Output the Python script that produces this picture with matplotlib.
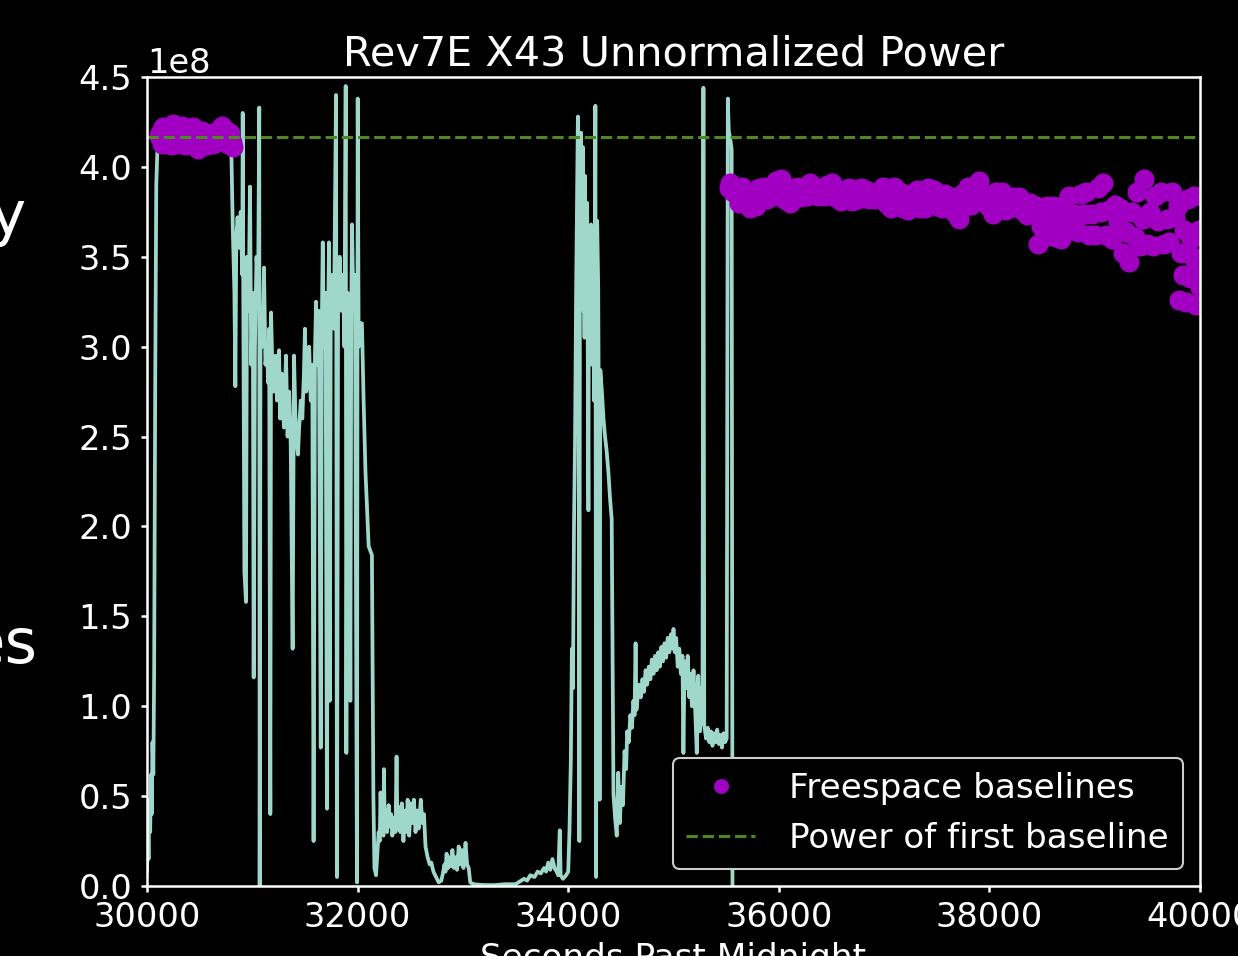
import matplotlib
matplotlib.use("Agg")
import matplotlib.pyplot as plt
import numpy as np

SCALE = 1e8  # power values below are in units of 1e8

# Measured power trace (seconds past midnight, power / 1e8)
trace_time = [
    30000, 30008, 30015, 30022, 30030, 30038, 30045, 30052, 30060, 30068,
    30078, 30088, 30098, 30110, 30150, 30250, 30400, 30550, 30700, 30800,
    30815, 30830, 30839, 30848, 30860, 30875, 30890, 30905, 30909, 30915,
    30925, 30940, 30950, 30965, 30978, 30990, 31005, 31013, 31025, 31040,
    31055, 31066, 31070, 31078, 31095, 31111, 31125, 31140, 31150, 31160,
    31171, 31178, 31190, 31205, 31220, 31235, 31254, 31265, 31280, 31300,
    31320, 31335, 31350, 31365, 31383, 31396, 31410, 31425, 31434, 31445,
    31460, 31475, 31490, 31500, 31512, 31525, 31540, 31555, 31570, 31582,
    31595, 31605, 31618, 31632, 31650, 31660, 31669, 31680, 31695, 31709,
    31718, 31728, 31735, 31745, 31760, 31775, 31795, 31804, 31815, 31830,
    31845, 31860, 31875, 31887, 31893, 31905, 31920, 31931, 31940, 31947,
    31960, 31975, 31994, 32001, 32010, 32020, 32041, 32057, 32075, 32105,
    32136, 32150, 32160, 32175, 32190, 32200, 32210, 32218, 32225, 32235,
    32245, 32250, 32258, 32270, 32280, 32295, 32305, 32318, 32330, 32345,
    32360, 32370, 32378, 32390, 32405, 32420, 32435, 32450, 32465, 32475,
    32490, 32505, 32520, 32535, 32550, 32565, 32580, 32600, 32615, 32630,
    32645, 32665, 32685, 32700, 32720, 32745, 32770, 32795, 32810, 32825,
    32835, 32845, 32860, 32875, 32890, 32900, 32915, 32930, 32945, 32960,
    32975, 32990, 33005, 33025, 33040, 33055, 33070, 33100, 33200, 33300,
    33400, 33500, 33540, 33580, 33610, 33640, 33680, 33710, 33740, 33770,
    33790, 33810, 33830, 33850, 33870, 33890, 33905, 33920, 33928, 33950,
    33980, 34000, 34012, 34025, 34035, 34045, 34055, 34065, 34075, 34085,
    34092, 34096, 34100, 34106, 34112, 34117, 34122, 34127, 34132, 34136,
    34140, 34145, 34150, 34155, 34160, 34165, 34170, 34175, 34180, 34186,
    34192, 34196, 34200, 34205, 34210, 34217, 34222, 34228, 34234, 34240,
    34245, 34250, 34258, 34265, 34275, 34285, 34292, 34298, 34305, 34320,
    34335, 34350, 34365, 34382, 34398, 34413, 34422, 34430, 34445, 34461,
    34475, 34490, 34505, 34520, 34535, 34550, 34560, 34575, 34590, 34605,
    34619, 34630, 34640, 34648, 34660, 34675, 34690, 34705, 34720, 34735,
    34750, 34765, 34780, 34795, 34810, 34825, 34840, 34855, 34870, 34885,
    34900, 34915, 34930, 34945, 34960, 34975, 34990, 35000, 35012, 35025,
    35040, 35055, 35070, 35085, 35094, 35105, 35120, 35135, 35150, 35160,
    35175, 35190, 35205, 35221, 35235, 35250, 35265, 35275, 35284, 35292,
    35310, 35325, 35340, 35355, 35370, 35385, 35400, 35415, 35430, 35445,
    35460, 35475, 35490, 35505, 35516, 35525, 35540, 35552, 35560,
]
trace_power = [
    0.08, 0.35, 0.15, 0.48, 0.30, 0.62, 0.40, 0.80, 0.62, 1.20,
    2.80, 3.90, 4.08, 4.12, 4.14, 4.15, 4.14, 4.15, 4.14, 4.12,
    3.65, 3.30, 2.78, 3.60, 3.72, 3.55, 3.75, 3.40, 4.30, 3.20,
    1.75, 1.58, 3.50, 3.20, 3.89, 2.90, 3.30, 1.16, 3.00, 3.50,
    3.30, 4.33, 0.00, 3.20, 3.00, 3.44, 2.90, 3.00, 2.80, 3.10,
    0.40, 3.19, 2.90, 2.75, 2.95, 2.70, 2.98, 2.60, 2.85, 2.55,
    2.95, 2.50, 2.75, 2.45, 1.32, 2.95, 2.60, 2.45, 2.40, 2.55,
    2.70, 2.60, 2.85, 3.10, 2.75, 2.80, 3.00, 2.70, 2.90, 0.25,
    2.95, 3.25, 2.90, 3.20, 0.77, 3.10, 3.58, 3.00, 3.30, 0.43,
    3.00, 3.58, 1.03, 3.20, 3.40, 3.10, 4.40, 0.05, 3.30, 3.50,
    3.20, 3.40, 3.00, 4.45, 0.74, 3.30, 3.10, 1.03, 3.20, 3.68,
    3.20, 3.40, 0.02, 4.38, 3.00, 3.13, 3.13, 2.70, 2.30, 1.89,
    1.84, 0.50, 0.10, 0.06, 0.20, 0.30, 0.25, 0.52, 0.35, 0.40,
    0.28, 0.65, 0.32, 0.42, 0.30, 0.45, 0.33, 0.40, 0.28, 0.38,
    0.30, 0.72, 0.32, 0.44, 0.30, 0.46, 0.25, 0.42, 0.30, 0.48,
    0.28, 0.46, 0.35, 0.48, 0.30, 0.42, 0.32, 0.48, 0.35, 0.40,
    0.22, 0.16, 0.12, 0.13, 0.08, 0.05, 0.02, 0.03, 0.07, 0.12,
    0.08, 0.18, 0.10, 0.16, 0.11, 0.20, 0.10, 0.16, 0.09, 0.22,
    0.12, 0.20, 0.10, 0.24, 0.12, 0.10, 0.02, 0.01, 0.005, 0.005,
    0.01, 0.01, 0.025, 0.04, 0.03, 0.06, 0.05, 0.08, 0.07, 0.10,
    0.08, 0.13, 0.09, 0.15, 0.10, 0.08, 0.06, 0.31, 0.06, 0.04,
    0.06, 0.08, 0.30, 0.70, 1.32, 1.10, 2.00, 2.47, 3.30, 3.90,
    4.28, 3.60, 4.05, 0.25, 4.10, 3.50, 4.19, 3.40, 3.85, 3.30,
    4.11, 3.20, 3.60, 3.05, 3.95, 3.10, 3.30, 3.75, 3.80, 2.95,
    2.09, 3.40, 3.50, 3.00, 3.20, 3.68, 2.90, 3.00, 3.45, 3.30,
    2.70, 2.90, 4.34, 0.05, 3.70, 3.33, 2.40, 0.48, 2.87, 2.75,
    2.60, 2.50, 2.42, 2.30, 2.15, 2.04, 1.20, 0.51, 0.38, 0.28,
    0.63, 0.35, 0.55, 0.45, 0.75, 0.65, 0.86, 0.80, 0.95, 0.88,
    1.03, 0.95, 1.35, 0.98, 1.05, 1.12, 1.05, 1.15, 1.08, 1.20,
    1.12, 1.22, 1.15, 1.26, 1.18, 1.28, 1.20, 1.30, 1.22, 1.33,
    1.25, 1.35, 1.27, 1.38, 1.30, 1.40, 1.32, 1.43, 1.30, 1.38,
    1.22, 1.32, 1.18, 1.28, 0.74, 1.25, 1.10, 1.28, 1.05, 1.18,
    1.00, 1.20, 1.00, 0.74, 1.17, 0.86, 1.10, 0.90, 4.44, 0.89,
    0.82, 0.88, 0.80, 0.86, 0.78, 0.85, 0.80, 0.87, 0.79, 0.84,
    0.77, 0.85, 0.80, 0.82, 4.38, 4.20, 4.15, 4.10, 0.00,
]

# Freespace baseline measurements (seconds past midnight, power / 1e8)
baseline_time = [
    30110, 30123, 30140, 30155, 30170, 30180, 30202, 30215, 30230, 30250,
    30265, 30282, 30300, 30315, 30329, 30350, 30365, 30377, 30400, 30420,
    30440, 30460, 30475, 30487, 30500, 30519, 30540, 30555, 30567, 30590,
    30600, 30614, 30630, 30646, 30670, 30690, 30709, 30725, 30741, 30755,
    30770, 30788, 30805, 30820,
    35530, 35541, 35568, 35595, 35622, 35649, 35676, 35702, 35729, 35756,
    35783, 35810, 35837, 35863, 35890, 35917, 35944, 35971, 35998, 36024,
    36051, 36078, 36105, 36132, 36159, 36185, 36212, 36239, 36266, 36293,
    36320, 36346, 36373, 36400, 36427, 36454, 36481, 36507, 36534, 36561,
    36588, 36615, 36642, 36668, 36695, 36722, 36749, 36776, 36803, 36829,
    36856, 36883, 36910, 36937, 36964, 36990, 37017, 37044, 37070, 37097,
    37124, 37151, 37178, 37205, 37231, 37258, 37285, 37312, 37339, 37366,
    37392, 37419, 37446, 37473, 37500, 37527, 37553, 37580, 37607, 37634,
    37661, 37688, 37714, 37741, 37768, 37795, 37822, 37849, 37875, 37902,
    37929, 37956, 37983, 38010, 38036, 38063, 38090, 38117, 38144, 38171,
    38197, 38224, 38251, 38278, 38305, 38332, 38358, 38385, 38412, 38439,
    38466, 38493, 38519, 38546, 38573, 38600, 38627, 38654, 38680, 38707,
    38734, 38760, 38787, 38814, 38841, 38868, 38895, 38921, 38948, 38975,
    39002, 39029, 39056, 39082, 39109, 39136, 39163, 39190, 39217, 39243,
    39270, 39297, 39324, 39351, 39378, 39404, 39431, 39458, 39469, 39496,
    39523, 39549, 39576, 39603, 39630, 39657, 39684, 39710, 39737, 39764,
    39790, 39805, 39820, 39835, 39850, 39871, 39886, 39901, 39916, 39931,
    39946, 39961, 39976, 39991, 40000,
]
baseline_power = [
    4.17, 4.19, 4.13, 4.22, 4.15, 4.20, 4.16, 4.21, 4.12, 4.24,
    4.16, 4.13, 4.19, 4.14, 4.23, 4.18, 4.12, 4.15, 4.21, 4.13,
    4.22, 4.16, 4.12, 4.10, 4.17, 4.20, 4.14, 4.19, 4.12, 4.15,
    4.18, 4.19, 4.13, 4.14, 4.17, 4.21, 4.23, 4.17, 4.15, 4.20,
    4.13, 4.19, 4.14, 4.11,
    3.88, 3.91, 3.86, 3.89, 3.80, 3.89, 3.84, 3.86, 3.77, 3.82,
    3.78, 3.88, 3.83, 3.89, 3.82, 3.86, 3.84, 3.92, 3.88, 3.93,
    3.82, 3.87, 3.80, 3.88, 3.84, 3.89, 3.83, 3.86, 3.84, 3.91,
    3.87, 3.89, 3.84, 3.86, 3.84, 3.90, 3.87, 3.91, 3.83, 3.87,
    3.81, 3.87, 3.84, 3.88, 3.81, 3.85, 3.82, 3.88, 3.85, 3.87,
    3.82, 3.84, 3.82, 3.86, 3.84, 3.89, 3.80, 3.85, 3.77, 3.89,
    3.83, 3.86, 3.77, 3.81, 3.76, 3.85, 3.80, 3.87, 3.77, 3.82,
    3.77, 3.88, 3.83, 3.87, 3.78, 3.82, 3.77, 3.85, 3.81, 3.83,
    3.75, 3.79, 3.71, 3.85, 3.78, 3.89, 3.79, 3.84, 3.81, 3.92,
    3.86, 3.84, 3.78, 3.81, 3.74, 3.86, 3.80, 3.86, 3.76, 3.81,
    3.77, 3.83, 3.80, 3.83, 3.76, 3.79, 3.73, 3.80, 3.76, 3.78,
    3.57, 3.67, 3.61, 3.78, 3.70, 3.78, 3.61, 3.69, 3.60, 3.79,
    3.70, 3.84, 3.65, 3.74, 3.64, 3.85, 3.74, 3.86, 3.62, 3.74,
    3.62, 3.88, 3.75, 3.91, 3.62, 3.76, 3.60, 3.79, 3.70, 3.77,
    3.52, 3.64, 3.47, 3.75, 3.61, 3.86, 3.56, 3.71, 3.93, 3.57,
    3.75, 3.56, 3.84, 3.70, 3.86, 3.57, 3.71, 3.58, 3.86, 3.72,
    3.78, 3.26, 3.52, 3.40, 3.65, 3.25, 3.82, 3.38, 3.60, 3.50,
    3.84, 3.23, 3.45, 3.65, 3.33,
]

first_baseline_power = 4.165

plt.style.use("dark_background")
plt.rcParams["font.family"] = ["DejaVu Sans"]

fig = plt.figure(figsize=(12.38, 9.56), dpi=100)
ax = fig.add_axes([0.11874, 0.07322, 0.85057, 0.84623])

ax.plot(trace_time, np.array(trace_power) * SCALE, color="#9fd8ca", lw=2.7,
        zorder=2)
ax.plot(baseline_time, np.array(baseline_power) * SCALE, "o", color="#a100c3",
        markersize=14.4, markeredgewidth=0, label="Freespace baselines",
        zorder=2.1)
ax.axhline(first_baseline_power * SCALE, color="#4c8a1f", ls="--", lw=2.2,
           label="Power of first baseline", zorder=2.2)

ax.set_xlim(30000, 40000)
ax.set_ylim(0, 4.5 * SCALE)
ax.set_xticks(np.arange(30000, 40001, 2000))
ax.set_yticks(np.arange(0, 4.51, 0.5) * SCALE)

tick_fs = 24.2
text_fs = 24.7
ax.tick_params(labelsize=tick_fs, length=4.5, width=1.8, pad=6)
ax.yaxis.get_offset_text().set_fontsize(tick_fs)
for sp in ax.spines.values():
    sp.set_linewidth(1.8)
    sp.set_color("white")

ax.set_title("Rev7E X43 Unnormalized Power", fontsize=29.8, pad=8)
ax.set_xlabel("Seconds Past Midnight", fontsize=text_fs, labelpad=6)

leg = ax.legend(loc="lower right", fontsize=text_fs, markerscale=0.75,
                facecolor="black", edgecolor="#cccccc", framealpha=1.0,
                borderaxespad=0.5, handletextpad=1.0)
leg.get_frame().set_linewidth(1.5)

# Fragments of surrounding slide text at the left edge
fig.text(25 / 1238, 1 - 234 / 956, "y", fontsize=44, color="white",
         ha="right", va="baseline")
fig.text(38 / 1238, 1 - 663 / 956, "es", fontsize=45, color="white",
         ha="right", va="baseline")

fig.savefig("out.png", dpi=100, facecolor="black")
